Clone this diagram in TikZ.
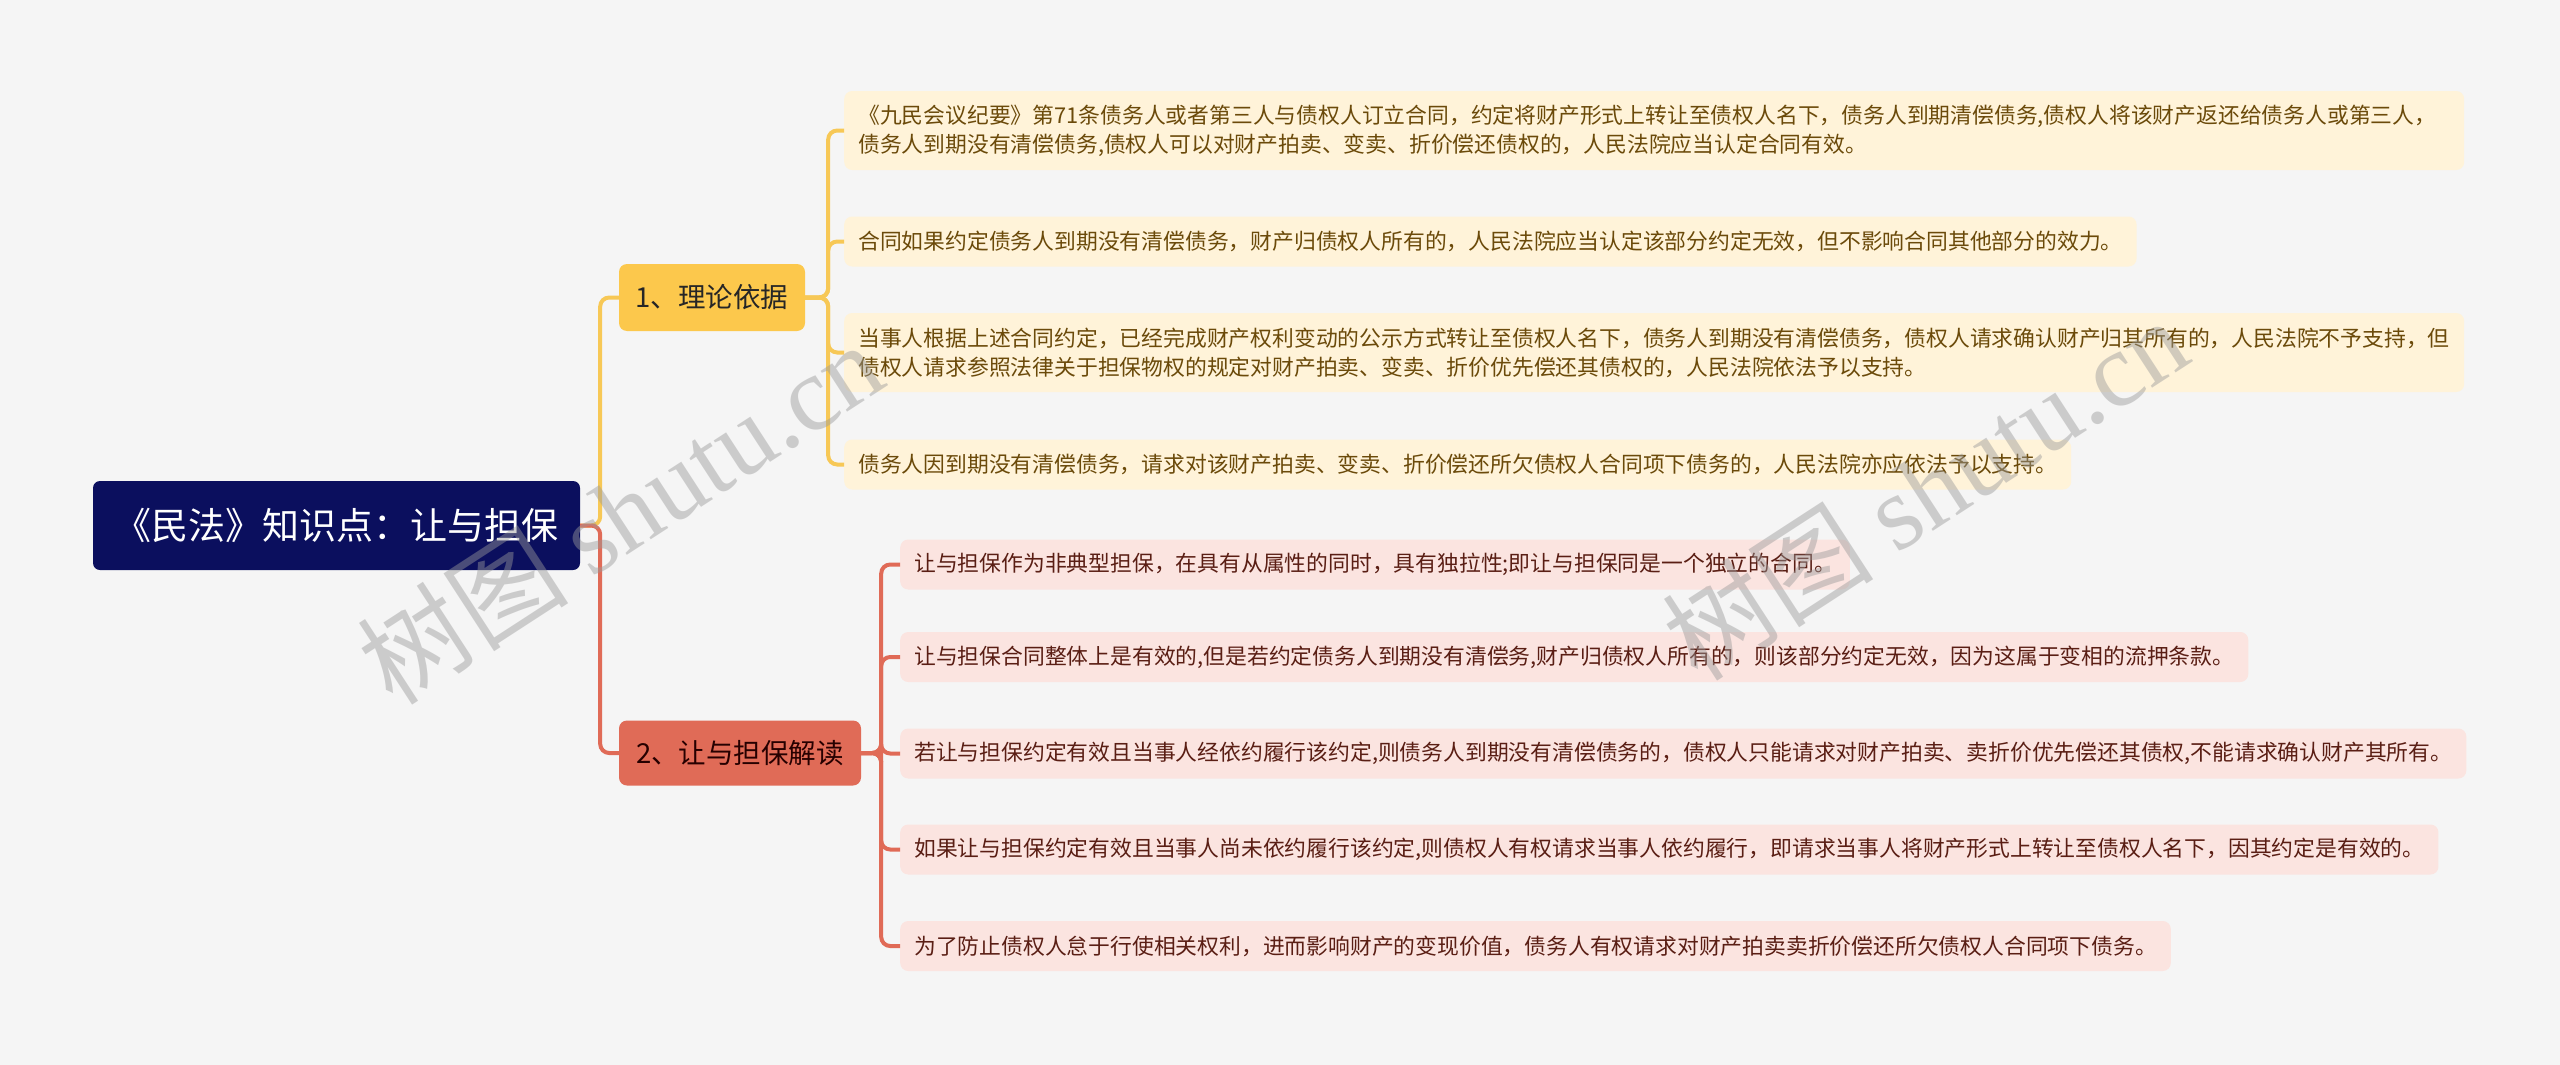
\documentclass[tikz,border=0pt]{standalone}
\usepackage{fontspec}
\setmainfont{Noto Sans CJK SC}
\newfontfamily\wmlatin{Liberation Serif}
\definecolor{bg}{HTML}{F5F5F5}
\definecolor{rootc}{HTML}{0B0F5E}
\definecolor{ylw}{HTML}{FCC84C}
\definecolor{ylwline}{HTML}{F7C856}
\definecolor{ylwleaf}{HTML}{FFF3D9}
\definecolor{ylwtxt}{HTML}{6B4A0A}
\definecolor{redc}{HTML}{E06B57}
\definecolor{redleaf}{HTML}{FBE4E0}
\definecolor{redtxt}{HTML}{5A1E14}
\definecolor{wmgray}{HTML}{9A9A9A}
\tikzset{
  rootbox/.style={fill=rootc, text=white, rounded corners=7pt, minimum width=487pt, minimum height=89pt, inner sep=0pt, font=\fontsize{37pt}{41pt}\selectfont},
  branchone/.style={fill=ylw, text=black!85, rounded corners=8pt, minimum width=186pt, minimum height=67pt, inner sep=0pt, font=\fontsize{27.5pt}{31pt}\selectfont},
  branchtwo/.style={fill=redc, text=black!85!red, rounded corners=8pt, minimum width=242pt, minimum height=65pt, inner sep=0pt, font=\fontsize{27.5pt}{31pt}\selectfont},
  leafbase/.style={anchor=west, rounded corners=8pt, inner xsep=14pt, inner ysep=0pt, align=left, font=\fontsize{21.8pt}{29pt}\selectfont},
  yleaf/.style={leafbase, fill=ylwleaf, text=ylwtxt},
  rleaf/.style={leafbase, fill=redleaf, text=redtxt},
  oneline/.style={minimum height=50pt},
  twoline/.style={minimum height=79pt, text width=1592pt},
  yline/.style={draw=ylwline, line width=4pt, rounded corners=9pt},
  rline/.style={draw=redc, line width=4pt, rounded corners=9pt},
  wmark/.style={rotate=33, text=wmgray, opacity=0.45, inner sep=0pt, font=\fontsize{106pt}{116pt}\selectfont}
}
\begin{document}
\begin{tikzpicture}[x=1pt,y=-1pt]
\fill[bg] (0,0) rectangle (2560,1065);
\useasboundingbox (0,0) rectangle (2560,1065);

% root and branches
\node[rootbox] (root) at (336.5,525.5) {《民法》知识点：让与担保};
\node[branchone] (b1) at (712,297.5) {1、理论依据};
\node[branchtwo] (b2) at (740,753) {2、让与担保解读};

% leaves of branch 1
\node[yleaf, twoline] (y1) at (844,130.5) {《九民会议纪要》第71条债务人或者第三人与债权人订立合同，约定将财产形式上转让至债权人名下，债务人到期清偿债务,债权人将该财产返还给债务人或第三人，\\债务人到期没有清偿债务,债权人可以对财产拍卖、变卖、折价偿还债权的，人民法院应当认定合同有效。};
\node[yleaf, oneline] (y2) at (844,241.5) {合同如果约定债务人到期没有清偿债务，财产归债权人所有的，人民法院应当认定该部分约定无效，但不影响合同其他部分的效力。};
\node[yleaf, twoline] (y3) at (844,352.5) {当事人根据上述合同约定，已经完成财产权利变动的公示方式转让至债权人名下，债务人到期没有清偿债务，债权人请求确认财产归其所有的，人民法院不予支持，但\\债权人请求参照法律关于担保物权的规定对财产拍卖、变卖、折价优先偿还其债权的，人民法院依法予以支持。};
\node[yleaf, oneline] (y4) at (844,464.5) {债务人因到期没有清偿债务，请求对该财产拍卖、变卖、折价偿还所欠债权人合同项下债务的，人民法院亦应依法予以支持。};

% leaves of branch 2
\node[rleaf, oneline] (r1) at (900,564.5) {让与担保作为非典型担保，在具有从属性的同时，具有独拉性;即让与担保同是一个独立的合同。};
\node[rleaf, oneline] (r2) at (900,657) {让与担保合同整体上是有效的,但是若约定债务人到期没有清偿务,财产归债权人所有的，则该部分约定无效，因为这属于变相的流押条款。};
\node[rleaf, oneline] (r3) at (900,753.5) {若让与担保约定有效且当事人经依约履行该约定,则债务人到期没有清偿债务的，债权人只能请求对财产拍卖、卖折价优先偿还其债权,不能请求确认财产其所有。};
\node[rleaf, oneline] (r4) at (900,849.5) {如果让与担保约定有效且当事人尚未依约履行该约定,则债权人有权请求当事人依约履行，即请求当事人将财产形式上转让至债权人名下，因其约定是有效的。};
\node[rleaf, oneline] (r5) at (900,946) {为了防止债权人怠于行使相关权利，进而影响财产的变现价值，债务人有权请求对财产拍卖卖折价偿还所欠债权人合同项下债务。};

% connectors root -> branches
\draw[yline] (root.east) -- ++(20,0) |- (b1.west);
\draw[rline] (root.east) -- ++(20,0) |- (b2.west);

% connectors branch 1 -> leaves
\foreach \n in {y1,y2,y3,y4}{
  \draw[yline] (b1.east) -- ++(23,0) |- (\n.west);
}
% connectors branch 2 -> leaves
\foreach \n in {r1,r2,r3,r4,r5}{
  \draw[rline] (b2.east) -- ++(20,0) |- (\n.west);
}

% watermarks
\node[wmark] (wm1) at (620,512) {树图 {\wmlatin shutu.cn}};
\node[wmark] (wm2) at (1925,488) {树图 {\wmlatin shutu.cn}};
\end{tikzpicture}
\end{document}
